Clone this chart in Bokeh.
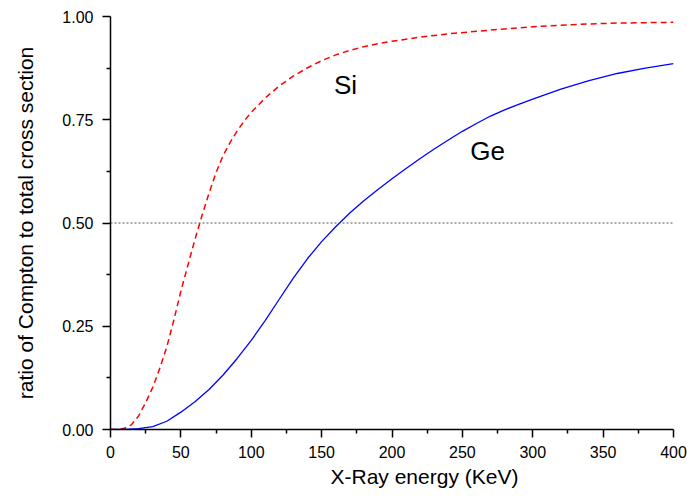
from bokeh.plotting import figure
from bokeh.models import Range1d, FixedTicker, NumeralTickFormatter, ColumnDataSource, Span, Title
from bokeh.core.properties import value
from bokeh.embed import file_html
from bokeh.resources import INLINE

# Si (red dashed)
si_x = [0, 5, 10, 15, 20, 25, 30, 35, 40, 45, 50, 55, 60, 65, 70, 75, 80, 85, 90, 95,
        100, 110, 120, 130, 140, 150, 160, 170, 180, 190, 200, 220, 240, 260, 280,
        300, 320, 340, 360, 380, 400]
si_y = [0.0, 0.0, 0.003, 0.012, 0.033, 0.065, 0.102, 0.148, 0.2, 0.265, 0.335, 0.398,
        0.46, 0.518, 0.572, 0.622, 0.663, 0.695, 0.723, 0.747, 0.768, 0.803, 0.832,
        0.856, 0.876, 0.893, 0.907, 0.918, 0.927, 0.934, 0.940, 0.950, 0.958, 0.964,
        0.970, 0.975, 0.979, 0.982, 0.984, 0.985, 0.986]

# Ge (blue solid)
ge_x = [0, 10, 20, 30, 40, 50, 60, 70, 80, 90, 100, 110, 120, 130, 140, 150, 160, 170,
        180, 190, 200, 210, 220, 230, 240, 250, 260, 270, 280, 290, 300, 320, 340, 360,
        380, 400]
ge_y = [0.0, 0.0, 0.002, 0.007, 0.02, 0.042, 0.067, 0.097, 0.132, 0.172, 0.216, 0.264,
        0.316, 0.367, 0.414, 0.455, 0.491, 0.524, 0.554, 0.581, 0.607, 0.632, 0.656,
        0.679, 0.701, 0.722, 0.741, 0.759, 0.774, 0.787, 0.800, 0.824, 0.845, 0.862,
        0.875, 0.886]

x_ticks = [0, 50, 100, 150, 200, 250, 300, 350, 400]
x_minor = [25, 75, 125, 175, 225, 275, 325, 375]
y_ticks = [0.0, 0.25, 0.5, 0.75, 1.0]
y_minor = [0.125, 0.375, 0.625, 0.875]

labels = ["Si", "Ge"]
label_x = [167, 268]
label_y = [0.835, 0.675]

x_title = "X-Ray energy (KeV)"
y_title = "ratio of Compton to total cross section"

FONT = "Liberation Sans"

p = figure(width=687, height=496, output_backend="svg", toolbar_location=None,
           x_range=Range1d(0, 400), y_range=Range1d(0, 1.0),
           min_border_left=110, min_border_right=14, min_border_top=16, min_border_bottom=67)
p.outline_line_color = None
p.grid.visible = False
p.background_fill_color = "white"
p.border_fill_color = "white"

half = Span(location=0.5, dimension="width", line_color="#555555",
            line_dash="2 2", line_width=1.2)
p.add_layout(half)

p.line(si_x, si_y, line_color="#ff0000", line_width=1.5, line_dash="6 4")
p.line(ge_x, ge_y, line_color="#0000ff", line_width=1.3)

src = ColumnDataSource(dict(x=label_x, y=label_y, t=labels))
p.text(x="x", y="y", text="t", source=src, text_font=value(FONT),
       text_font_size="26px", text_align="center", text_baseline="middle",
       text_color="black")

for ax in (p.xaxis[0], p.yaxis[0]):
    ax.axis_line_width = 1.5
    ax.axis_line_color = "black"
    ax.major_tick_line_width = 1.5
    ax.minor_tick_line_width = 1.5
    ax.major_tick_out = 8
    ax.major_tick_in = 0
    ax.minor_tick_out = 4
    ax.minor_tick_in = 0
    ax.major_label_text_font = FONT
    ax.major_label_text_font_size = "16px"
    ax.major_label_text_color = "black"
    ax.axis_label_text_font = FONT
    ax.axis_label_text_font_size = "21px"
    ax.axis_label_text_font_style = "normal"
    ax.axis_label_text_color = "black"

p.xaxis[0].ticker = FixedTicker(ticks=x_ticks, minor_ticks=x_minor)
p.yaxis[0].ticker = FixedTicker(ticks=y_ticks, minor_ticks=y_minor)
p.yaxis[0].formatter = NumeralTickFormatter(format="0.00")
p.yaxis[0].axis_label = y_title
p.xaxis[0].major_label_standoff = 8
p.yaxis[0].major_label_standoff = 9
p.yaxis[0].axis_label_standoff = 22

# x-axis title placed slightly right of centre, as in the reference
xt = Title(text=x_title, align="left", offset=220, text_font=FONT,
           text_font_size="21px", text_font_style="normal", text_color="black",
           standoff=4)
p.add_layout(xt, "below")

open("out.html", "w").write(file_html(p, INLINE))
